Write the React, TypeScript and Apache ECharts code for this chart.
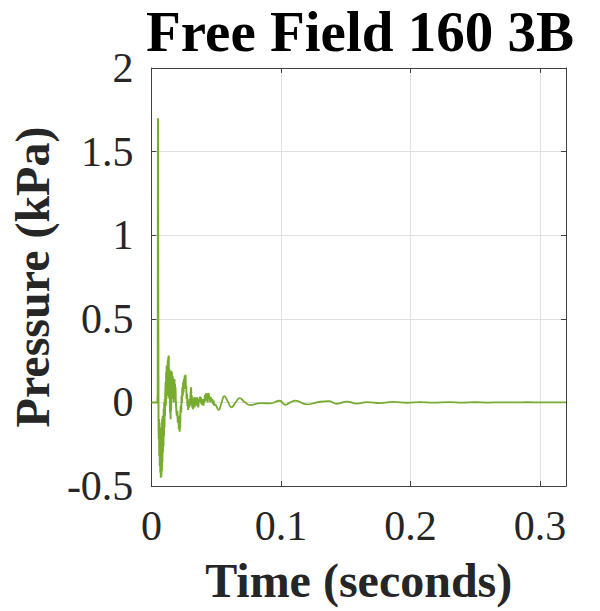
import React, { useEffect, useRef } from "react";
import * as echarts from "echarts";

const TITLE = "Free Field 160 3B";
const X_NAME = "Time (seconds)";
const Y_NAME = "Pressure (kPa)";

const X_MIN = 0;
const X_MAX = 0.32;
const X_STEP = 0.1;
const Y_MIN = -0.5;
const Y_MAX = 2;
const Y_STEP = 0.5;

// Blast arrival and the noisy early response: [time (s), pressure (kPa)]
const burstData: [number, number][] = [
  [0, 0], [0.0046, 0], [0.0049, 0.05], [0.0051, 1.7], [0.0053, 0.6], [0.0055, -0.1],
  [0.0057, -0.22], [0.0059, -0.1], [0.0061, -0.32], [0.0063, -0.12], [0.0065, -0.38],
  [0.0067, -0.15], [0.0069, -0.42], [0.0071, -0.2], [0.0073, -0.45], [0.0075, -0.25],
  [0.0077, -0.44], [0.0079, -0.18], [0.0081, -0.41], [0.0083, -0.1], [0.0085, -0.36],
  [0.0087, -0.08], [0.0089, -0.3], [0.0091, -0.12], [0.0093, -0.26], [0.0095, -0.04],
  [0.0097, -0.2], [0.0099, 0.0], [0.0101, -0.15], [0.0103, 0.02], [0.0105, -0.08],
  [0.0107, 0.05], [0.011, 0.12], [0.0112, -0.02], [0.0114, 0.18], [0.0116, 0.02],
  [0.0118, 0.22], [0.012, 0.05], [0.0122, 0.2], [0.0124, 0.04], [0.0126, 0.25],
  [0.0128, 0.08], [0.013, 0.27], [0.0132, 0.06], [0.0134, 0.28], [0.0136, 0.03],
  [0.0138, 0.2], [0.014, 0.02], [0.0142, 0.17], [0.0144, -0.06], [0.0146, 0.15],
  [0.0148, -0.1], [0.015, 0.1], [0.0152, -0.05], [0.0154, 0.19], [0.0156, 0.02],
  [0.0158, 0.18], [0.016, 0.06], [0.0162, 0.16], [0.0164, 0.03], [0.0166, 0.15],
  [0.0168, 0.05], [0.017, 0.12], [0.0172, 0.0], [0.0174, 0.1], [0.0176, 0.04],
  [0.0178, 0.14], [0.018, 0.02], [0.0182, 0.11], [0.0184, 0.06], [0.0186, 0.09],
  [0.0188, 0.02], [0.0192, -0.04], [0.0196, -0.08], [0.02, -0.05], [0.0204, -0.12],
  [0.0208, -0.08], [0.0212, -0.16], [0.0216, -0.12], [0.0218, -0.175], [0.022, -0.1],
  [0.0222, -0.15], [0.0224, -0.06], [0.0227, -0.02], [0.023, -0.06], [0.0233, 0.04],
  [0.0236, 0.0], [0.0239, 0.09], [0.0242, 0.04], [0.0245, 0.12], [0.0248, 0.06],
  [0.0251, 0.14], [0.0254, 0.08], [0.0257, 0.16], [0.026, 0.1], [0.0263, 0.165],
  [0.0266, 0.08], [0.0269, 0.1], [0.0272, 0.02], [0.0275, 0.05], [0.0278, -0.02],
  [0.0281, 0.01], [0.0284, -0.045], [0.0287, 0.0], [0.029, -0.03], [0.0294, 0.02],
  [0.0298, -0.02], [0.0302, 0.04], [0.0306, 0.09], [0.0309, 0.01], [0.0312, 0.04],
  [0.0315, -0.03], [0.0318, 0.02], [0.0321, -0.04], [0.0324, 0.01], [0.0327, -0.02],
  [0.033, 0.03], [0.0333, -0.03], [0.0336, 0.02], [0.0339, -0.01], [0.0342, 0.03],
  [0.0345, -0.02], [0.0348, 0.01], [0.0352, 0.03], [0.0355, -0.02], [0.0358, 0.01],
  [0.0362, -0.03], [0.0366, 0.02], [0.037, 0.0], [0.0374, 0.035], [0.0378, 0.0],
  [0.0382, 0.03], [0.0386, -0.01], [0.039, 0.02], [0.0394, -0.015], [0.0398, 0.01],
  [0.0402, -0.02], [0.0406, 0.02], [0.041, 0.0], [0.0414, 0.045], [0.0418, 0.01],
  [0.0422, 0.055], [0.0426, 0.02], [0.043, 0.04], [0.0434, 0.0], [0.0438, 0.05],
  [0.0442, 0.055], [0.0446, 0.02], [0.045, 0.035], [0.0455, 0.0], [0.046, 0.03],
  [0.0465, 0.01], [0.047, 0.02], [0.0475, -0.01], [0.048, 0.01], [0.0485, -0.02],
  [0.049, -0.01],
];

// Decaying ring-down after the burst: [time (s), pressure (kPa)]
const ringData: [number, number][] = [
  [0.049, -0.01], [0.05, -0.02], [0.0519, -0.045], [0.054, -0.005], [0.0563, 0.038],
  [0.059, 0.005], [0.0617, -0.03], [0.065, 0.0], [0.0681, 0.025], [0.072, 0.002],
  [0.0763, -0.016], [0.0841, -0.004], [0.0918, -0.006], [0.099, 0.01], [0.1033, -0.014],
  [0.1072, 0.0], [0.111, 0.011], [0.1201, -0.012], [0.1278, 0.0], [0.1368, 0.008],
  [0.1432, -0.008], [0.1509, 0.005], [0.1586, -0.007], [0.1663, 0.002], [0.1766, -0.004],
  [0.1869, 0.003], [0.1972, -0.002], [0.2074, 0.002], [0.2177, -0.001], [0.23, 0.002],
  [0.24, -0.001], [0.25, 0.001], [0.26, -0.001], [0.27, 0.0005], [0.28, 0.0],
  [0.29, 0.001], [0.3, 0.0], [0.31, 0.0], [0.32, 0.0],
];

const FONT = "'Liberation Serif', 'Times New Roman', serif";
const INK = "#262626";
const AXIS = "#404040";
const GRID = "#e0e0e0";
const LINE = "#77AC30";

const xFmt = (v: number) =>
  Math.abs(v * 10 - Math.round(v * 10)) < 1e-6 ? String(Math.round(v * 10) / 10) : "";

export default function App() {
  const ref = useRef<HTMLDivElement>(null);

  useEffect(() => {
    if (!ref.current) return;
    const chart = echarts.init(ref.current, undefined, { renderer: "svg" });
    const axisLine = { show: true, onZero: false, lineStyle: { color: AXIS, width: 1 } };
    const axisTick = { show: true, inside: true, length: 5, lineStyle: { color: AXIS, width: 1 } };
    chart.setOption({
      animation: false,
      backgroundColor: "#ffffff",
      title: {
        text: TITLE,
        left: 360,
        top: 3,
        padding: 0,
        textAlign: "center",
        textStyle: { fontFamily: FONT, fontWeight: "bold", fontSize: 57, color: "#000000" },
      },
      grid: { left: 151, top: 68, right: 34, bottom: 125, containLabel: false },
      xAxis: [
        {
          type: "value",
          position: "bottom",
          min: X_MIN,
          max: X_MAX,
          interval: X_STEP,
          name: X_NAME,
          nameLocation: "middle",
          nameGap: 70,
          nameTextStyle: { fontFamily: FONT, fontWeight: "bold", fontSize: 48, color: INK },
          axisLine,
          axisTick,
          axisLabel: { margin: 19, fontFamily: FONT, fontSize: 42, color: INK, formatter: xFmt },
          splitLine: { show: true, lineStyle: { color: GRID, width: 1 } },
        },
        {
          type: "value",
          position: "top",
          min: X_MIN,
          max: X_MAX,
          interval: X_STEP,
          axisLine,
          axisTick,
          axisLabel: { show: false },
          splitLine: { show: false },
        },
      ],
      yAxis: [
        {
          type: "value",
          position: "left",
          min: Y_MIN,
          max: Y_MAX,
          interval: Y_STEP,
          name: Y_NAME,
          nameLocation: "middle",
          nameGap: 94,
          nameTextStyle: { fontFamily: FONT, fontWeight: "bold", fontSize: 48, color: INK },
          axisLine,
          axisTick,
          axisLabel: { margin: 18, fontFamily: FONT, fontSize: 42, color: INK },
          splitLine: { show: true, lineStyle: { color: GRID, width: 1 } },
        },
        {
          type: "value",
          position: "right",
          min: Y_MIN,
          max: Y_MAX,
          interval: Y_STEP,
          axisLine,
          axisTick,
          axisLabel: { show: false },
          splitLine: { show: false },
        },
      ],
      series: [
        {
          type: "line",
          xAxisIndex: 0,
          yAxisIndex: 0,
          data: burstData,
          showSymbol: false,
          symbol: "none",
          lineStyle: { color: LINE, width: 2 },
        },
        {
          type: "line",
          xAxisIndex: 0,
          yAxisIndex: 0,
          data: ringData,
          smooth: 0.5,
          showSymbol: false,
          symbol: "none",
          lineStyle: { color: LINE, width: 1.8 },
        },
      ],
    });
    return () => chart.dispose();
  }, []);

  return (
    <div
      ref={ref}
      style={{ position: "fixed", left: 0, top: 0, width: 600, height: 611, background: "#fff" }}
    />
  );
}
